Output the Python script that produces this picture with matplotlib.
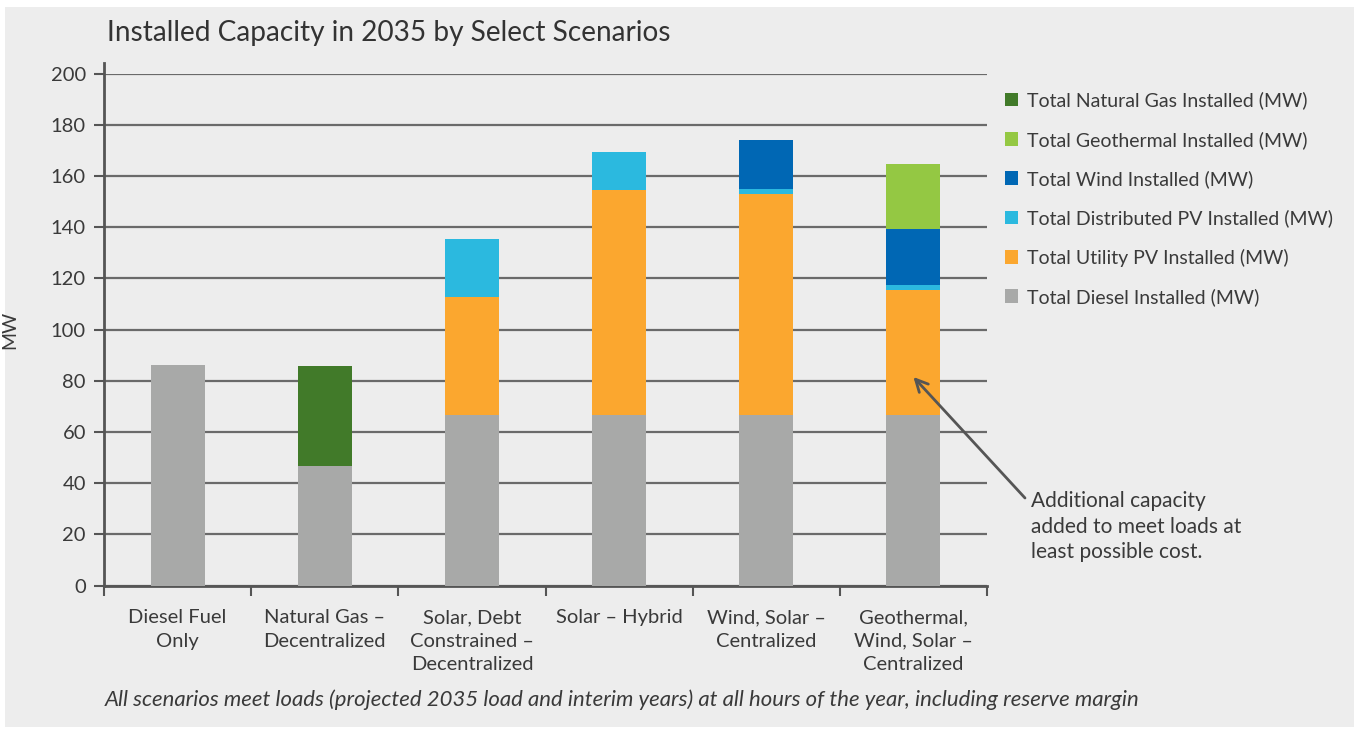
import matplotlib.pyplot as plt
import matplotlib.patches as mpatches
import numpy as np

plt.rcParams['font.family'] = ['Lato', 'DejaVu Sans']

TEXT_COLOR = '#3a3a3a'
PANEL_COLOR = '#ededed'

# Scenarios and installed capacity (MW) by resource
scenarios = ['Diesel Fuel\nOnly', 'Natural Gas –\nDecentralized',
             'Solar, Debt\nConstrained –\nDecentralized', 'Solar – Hybrid',
             'Wind, Solar –\nCentralized', 'Geothermal,\nWind, Solar –\nCentralized']
diesel = [86.0, 46.7, 66.7, 66.7, 66.7, 66.7]
utility_pv = [0, 0, 46.0, 87.8, 86.2, 48.8]
distributed_pv = [0, 0, 22.7, 14.8, 2.0, 1.9]
wind = [0, 0, 0, 0, 19.2, 21.9]
geothermal = [0, 0, 0, 0, 0, 25.3]
natural_gas = [0, 39.0, 0, 0, 0, 0]

series = [
    ('Total Diesel Installed (MW)', diesel, '#a8a9a8'),
    ('Total Utility PV Installed (MW)', utility_pv, '#fba72f'),
    ('Total Distributed PV Installed (MW)', distributed_pv, '#2bb9df'),
    ('Total Wind Installed (MW)', wind, '#0067b4'),
    ('Total Geothermal Installed (MW)', geothermal, '#94c843'),
    ('Total Natural Gas Installed (MW)', natural_gas, '#417a29'),
]

W, H = 1359, 732
fig = plt.figure(figsize=(W / 100, H / 100), dpi=100, facecolor='white')
panel = mpatches.Rectangle((5 / W, 1 - 727 / H), 1349 / W, 720 / H,
                           transform=fig.transFigure, facecolor=PANEL_COLOR,
                           edgecolor='none', zorder=-10)
fig.add_artist(panel)

ax = fig.add_axes([104 / W, 1 - 585.7 / H, 883 / W, 512.2 / H])
ax.set_facecolor('none')

x = np.arange(len(scenarios))
bottom = np.zeros(len(scenarios))
handles = []
for label, values, color in series:
    vals = np.array(values, dtype=float)
    bars = ax.bar(x, vals, 0.366, bottom=bottom, color=color, label=label, zorder=3)
    handles.append(bars)
    bottom += vals

ax.set_xlim(-0.5, len(scenarios) - 0.5)
ax.set_ylim(0, 200)
ax.set_yticks(np.arange(0, 201, 20))
ax.yaxis.grid(True, color='#6a6a6a', linewidth=1.6, zorder=1)
ax.set_axisbelow(True)

ax.set_xticks(x)
ax.set_xticklabels(scenarios, fontsize=14.5, color=TEXT_COLOR, linespacing=1.45)
ax.set_xticks(np.arange(-0.5, len(scenarios), 1.0), minor=True)
ax.tick_params(axis='x', which='major', length=0, pad=17)
ax.tick_params(axis='x', which='minor', length=7, width=1.5, color='#555555', direction='out')
ax.tick_params(axis='y', length=7, width=1.5, color='#555555', labelsize=14.5,
               labelcolor=TEXT_COLOR, pad=6)

for side in ('top', 'right'):
    ax.spines[side].set_visible(False)
for side in ('left', 'bottom'):
    ax.spines[side].set_color('#555555')
    ax.spines[side].set_linewidth(2)
ax.spines['left'].set_bounds(0, 204)

ax.set_ylabel('MW', fontsize=14, color=TEXT_COLOR)
ax.yaxis.set_label_coords(-0.097, 0.5)

fig.text(107 / W, 1 - 33 / H, 'Installed Capacity in 2035 by Select Scenarios',
         fontsize=20.2, color='#333333', va='center', ha='left')

leg = fig.legend(handles[::-1], [s[0] for s in series][::-1], loc='upper left',
                 bbox_to_anchor=(987 / W, 1 - 74 / H), frameon=False,
                 fontsize=14, handlelength=0.7, handleheight=0.7,
                 handletextpad=0.45, labelspacing=1.1)
for t in leg.get_texts():
    t.set_color(TEXT_COLOR)

# Callout pointing at the added utility PV in the last scenario
ax.annotate('', xy=(5.0, 81.5), xycoords='data',
            xytext=(1025 / W, 1 - 498 / H), textcoords='figure fraction',
            arrowprops=dict(arrowstyle='->', color='#555555', lw=2,
                            mutation_scale=22, shrinkA=0, shrinkB=0),
            zorder=5)
fig.text(1031 / W, 1 - 491 / H, 'Additional capacity\nadded to meet loads at\nleast possible cost.',
         fontsize=15, color=TEXT_COLOR, va='top', ha='left', linespacing=1.35)

fig.text(105 / W, 1 - 700 / H,
         'All scenarios meet loads (projected 2035 load and interim years) at all hours '
         'of the year, including reserve margin',
         fontsize=15.9, style='italic', color=TEXT_COLOR, va='center', ha='left')

fig.savefig('out.png', dpi=100, facecolor='white')
